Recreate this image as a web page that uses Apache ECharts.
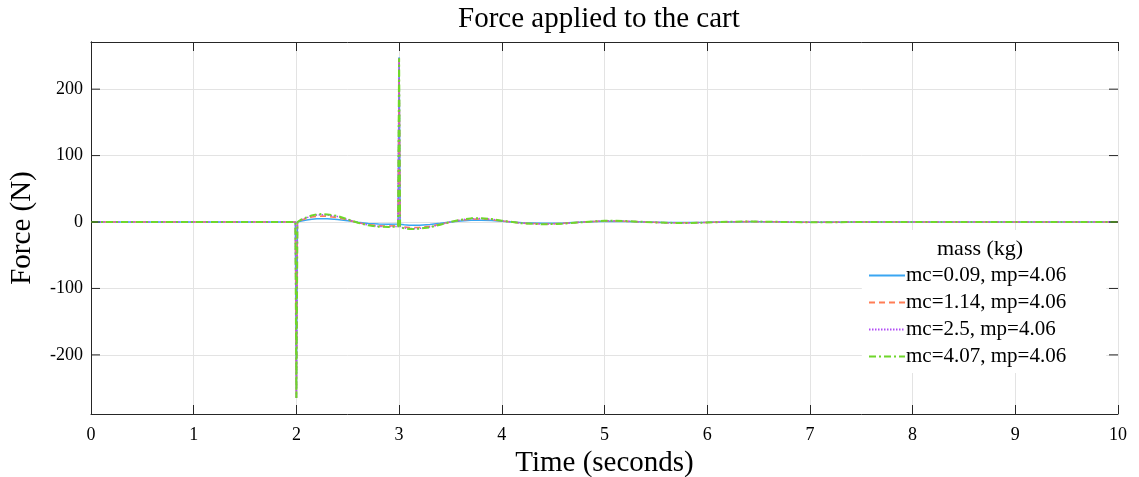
<!DOCTYPE html>
<html>
<head>
<meta charset="utf-8">
<style>
html, body {
  margin: 0;
  padding: 0;
  background: #fff;
}
#myChart {
  width: 1139px;
  height: 477px;
}
</style>
<script src="https://cdn.jsdelivr.net/npm/echarts@6/dist/echarts.min.js"></script>
</head>
<body>
<div id="myChart"></div>
<script>
// time samples (s)
const time = [0, 1.99, 2.0, 2.01, 2.05, 2.1, 2.15, 2.2, 2.25, 2.3, 2.4, 2.5, 2.6, 2.7, 2.8, 2.9, 2.99,
  3.0, 3.01, 3.05, 3.1, 3.15, 3.2, 3.3, 3.4, 3.5, 3.6, 3.7, 3.8, 3.9, 4.0, 4.2, 4.4, 4.6, 4.8,
  5.0, 5.2, 5.4, 5.6, 5.8, 6.0, 6.2, 6.4, 6.6, 6.8, 7.0, 7.5, 8, 9, 10]

// force (N) per mass case
const f009 = [0, 0, -265, 0, 1.5, 3, 4, 4.8, 5, 4.8, 3.8, 1.8, -0.5, -2.2, -3, -3.2, -3,
  248, -3.5, -4.2, -4.8, -5, -4.8, -3.8, -2, 0, 1.6, 2.6, 2.8, 2.4, 1.2, -1, -2, -1.4, 0,
  1, 0.8, 0, -0.6, -0.8, -0.4, 0.2, 0.4, 0.3, 0, -0.2, 0, 0, 0, 0]
const f114 = [0, 0, -265, 0, 3, 5.5, 7.5, 8.5, 9, 8.6, 6.6, 3, -1, -4, -5.5, -6, -5.5,
  247.5, -6.5, -7.5, -8.2, -8.3, -8, -6.4, -3.2, 0, 2.8, 4.3, 4.5, 3.6, 1.6, -1.6, -2.9, -2, 0,
  1.6, 1.2, 0, -1, -1.2, -0.6, 0.2, 0.6, 0.4, 0, -0.3, 0, 0, 0, 0]
const f250 = [0, 0, -265, 0, 3.5, 6.5, 9, 10.5, 11, 10.5, 8.2, 3.6, -1, -4.6, -6.5, -7, -6.5,
  247, -7.5, -9, -9.8, -10, -9.5, -7.5, -3.8, 0, 3.2, 5, 5.2, 4.2, 1.8, -1.8, -3.2, -2.3, 0,
  1.8, 1.4, 0, -1.1, -1.4, -0.7, 0.3, 0.7, 0.5, 0, -0.4, 0, 0, 0, 0]
const f407 = [0, 0, -265, 0, 4, 7, 10, 11.5, 12, 11.5, 9, 4, -1, -5, -7, -7.5, -7,
  246.5, -8, -9.5, -10.5, -10.5, -10, -8, -4, 0, 3.5, 5.5, 5.5, 4.5, 2, -2, -3.5, -2.5, 0,
  2, 1.5, 0, -1.2, -1.5, -0.8, 0.3, 0.8, 0.5, 0, -0.4, 0, 0, 0, 0]

const names = ['mc=0.09, mp=4.06', 'mc=1.14, mp=4.06', 'mc=2.5, mp=4.06', 'mc=4.07, mp=4.06']
const yTicks = [-200, -100, 0, 100, 200]

const serif = 'Liberation Serif'
const axisColor = '#262626'

function pairs(arr) {
  return time.map((t, i) => [t, arr[i]])
}

let myChart = echarts.init(document.getElementById('myChart'))

const yCommon = {
  type: 'value',
  min: -289,
  max: 271,
  axisLine: { show: true, lineStyle: { color: axisColor, width: 1 } },
  axisTick: { show: false },
  splitLine: { show: false },
}
const xCommon = {
  type: 'value',
  min: 0,
  max: 10,
  interval: 1,
  axisLine: { show: true, onZero: false, lineStyle: { color: axisColor, width: 1 } },
  axisTick: { show: true, inside: true, length: 9, lineStyle: { color: axisColor } },
  splitLine: { show: false },
}

// inward y ticks on both sides of the box (placed through the y scale)
function yTickItem(params, api) {
  const y = api.coord([0, api.value(0)])[1]
  const x0 = params.coordSys.x
  const x1 = x0 + params.coordSys.width
  const style = { stroke: axisColor, lineWidth: 1 }
  return {
    type: 'group',
    children: [
      { type: 'line', shape: { x1: x0, y1: y, x2: x0 + 9, y2: y }, style: style },
      { type: 'line', shape: { x1: x1 - 9, y1: y, x2: x1, y2: y }, style: style },
    ],
  }
}

myChart.setOption({
  animation: false,
  backgroundColor: '#fff',
  title: [
    {
      text: 'Force applied to the cart',
      left: 453,
      top: 0,
      textStyle: { fontFamily: serif, fontSize: 29, fontWeight: 'normal', color: '#000' },
    },
    {
      text: 'mass (kg)',
      left: 932,
      top: 233,
      textStyle: { fontFamily: serif, fontSize: 22, fontWeight: 'normal', color: '#000' },
    },
  ],
  grid: {
    left: 91,
    right: 21,
    top: 42,
    bottom: 63,
    containLabel: false,
    outerBoundsMode: 'none',
  },
  legend: {
    orient: 'vertical',
    left: 862,
    top: 230,
    padding: [35, 40, 6, 6],
    itemWidth: 36,
    itemHeight: 14,
    itemGap: 6,
    itemStyle: { opacity: 0 },
    backgroundColor: '#fff',
    textStyle: { fontFamily: serif, fontSize: 21, color: '#000', padding: [0, 0, 0, -4] },
    data: names,
  },
  xAxis: [
    Object.assign({}, xCommon, {
      position: 'bottom',
      name: 'Time (seconds)',
      nameLocation: 'middle',
      nameGap: 35,
      nameTextStyle: { fontFamily: serif, fontSize: 29, color: '#000' },
      axisLabel: { fontFamily: serif, fontSize: 18, color: '#000', margin: 12 },
      splitLine: { show: true, lineStyle: { color: '#e3e3e3', width: 1 } },
    }),
    Object.assign({}, xCommon, {
      position: 'top',
      axisLabel: { show: false },
    }),
  ],
  yAxis: [
    Object.assign({}, yCommon, {
      position: 'left',
      name: 'Force (N)',
      nameLocation: 'middle',
      nameGap: 54,
      nameTextStyle: { fontFamily: serif, fontSize: 29, color: '#000' },
      axisLabel: { fontFamily: serif, fontSize: 18, color: '#000', margin: 8, customValues: yTicks },
      splitLine: { show: true, lineStyle: { color: '#e3e3e3', width: 1 } },
    }),
    Object.assign({}, yCommon, {
      position: 'right',
      axisLabel: { show: false, customValues: yTicks },
    }),
  ],
  series: [
    {
      name: names[0],
      type: 'line',
      data: pairs(f009),
      symbol: 'none',
      lineStyle: { color: '#3aa6f2', width: 1.5, type: 'solid' },
      itemStyle: { color: '#3aa6f2' },
    },
    {
      name: names[1],
      type: 'line',
      data: pairs(f114),
      symbol: 'none',
      lineStyle: { color: '#ff7d55', width: 1.5, type: [6, 4] },
      itemStyle: { color: '#ff7d55' },
    },
    {
      name: names[2],
      type: 'line',
      data: pairs(f250),
      symbol: 'none',
      lineStyle: { color: '#b24cf5', width: 1.5, type: [1.5, 1.5] },
      itemStyle: { color: '#b24cf5' },
    },
    {
      name: names[3],
      type: 'line',
      data: pairs(f407),
      symbol: 'none',
      lineStyle: { color: '#6fd62a', width: 2, type: [7, 3, 2, 3] },
      itemStyle: { color: '#6fd62a' },
    },
    {
      name: 'yticks',
      type: 'custom',
      renderItem: yTickItem,
      data: yTicks.map(v => [v]),
      encode: { y: 0 },
      clip: false,
      silent: true,
      z: 10,
    },
  ],
})
</script>
</body>
</html>
